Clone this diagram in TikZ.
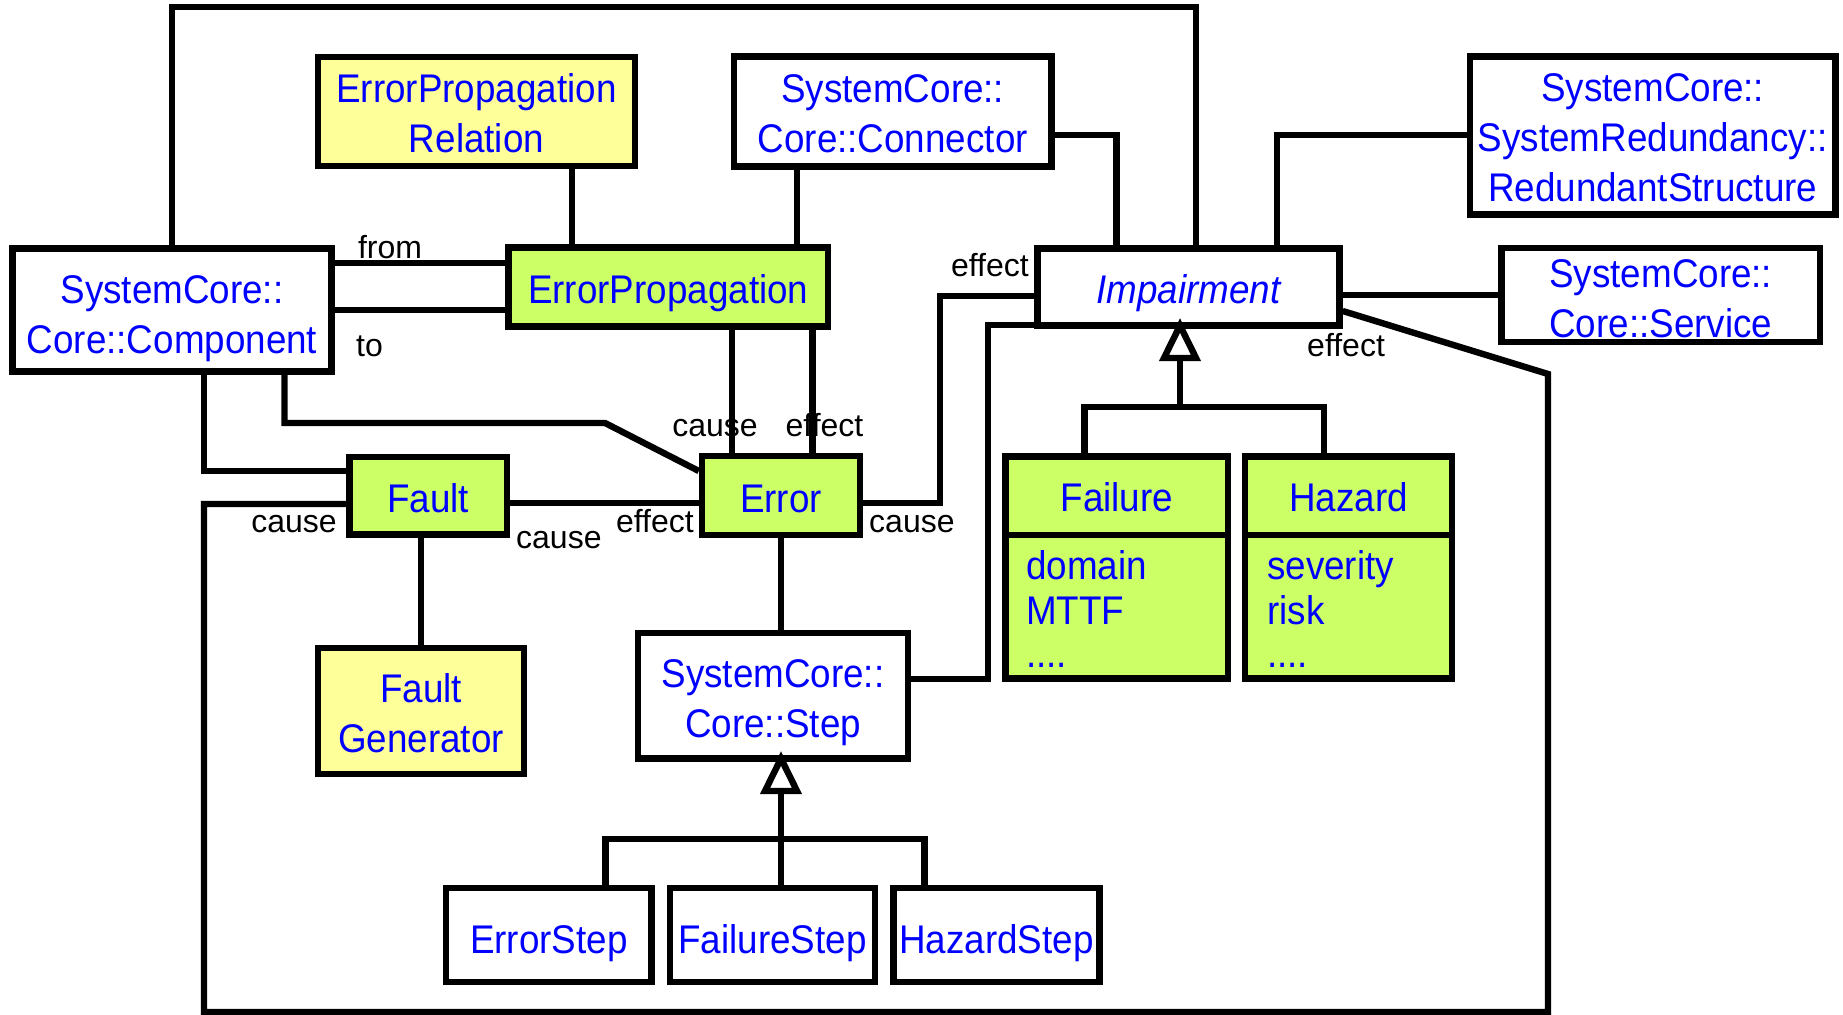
\documentclass[tikz,border=0pt]{standalone}
\usepackage{fontspec}
\setmainfont{Liberation Sans}
\newfontfamily\boxfont{Liberation Sans}[FakeStretch=0.92]
\definecolor{umlblue}{RGB}{0,0,255}
\definecolor{umlgreen}{RGB}{204,255,102}
\definecolor{umlyellow}{RGB}{255,255,153}
% invisible strut on the first line that lowers a class name by #1
\newcommand{\dn}[1]{\rule{0pt}{\dimexpr14.7pt+#1*2\relax}}

\begin{document}
\begin{tikzpicture}[x=0.5pt,y=-0.5pt,
  line width=3.2pt,
  cls/.style={draw=black, fill=white, inner sep=0pt, align=center,
              text=umlblue, font=\boxfont\fontsize{20}{25}\selectfont},
  gcls/.style={cls, fill=umlgreen},
  ycls/.style={cls, fill=umlyellow},
  title/.style={inner sep=0pt, text=umlblue, font=\boxfont\fontsize{20}{25}\selectfont},
  attr/.style={inner sep=0pt, anchor=base west, text=umlblue,
               font=\boxfont\fontsize{20}{25}\selectfont},
  role/.style={inner sep=0pt, font=\fontsize{16}{19}\selectfont},
  gen/.style={fill=white, line join=miter},
]
\useasboundingbox (0,0) rectangle (1843,1015);

% ---------- classes ----------
\node[ycls, minimum width=158.5pt, minimum height=54.5pt] (epr) at (476.5,111.5) {\dn{1pt}ErrorPropagation\\Relation};
\node[cls,  minimum width=159.5pt, minimum height=61.5pt] (comp) at (172,310) {\dn{4pt}SystemCore::\\Core::Component};
\node[gcls, minimum width=159.75pt, minimum height=39.5pt] (ep) at (668.25,287) {\dn{3pt}ErrorPropagation};
\node[cls,  minimum width=158.75pt, minimum height=55pt] (conn) at (892.75,111.5) {\dn{1pt}SystemCore::\\Core::Connector};
\node[cls,  minimum width=151pt, minimum height=38.5pt] (imp) at (1188.5,287) {\dn{3pt}\itshape Impairment};
\node[cls,  minimum width=182.75pt, minimum height=79pt] (red) at (1652.75,135.5) {\dn{1pt}SystemCore::\\SystemRedundancy::\\RedundantStructure};
\node[cls,  minimum width=159.25pt, minimum height=47pt] (serv) at (1660.75,295) {\dn{1.75pt}SystemCore::\\Core::Service};
\node[gcls, minimum width=78.75pt, minimum height=38.75pt] (fault) at (428.25,495.75) {\dn{1.25pt}Fault};
\node[gcls, minimum width=79pt, minimum height=39.5pt] (error) at (781,495.5) {\dn{1.25pt}Error};
\node[ycls, minimum width=103pt, minimum height=63pt] (fgen) at (421,711) {\dn{1pt}Fault\\Generator};
\node[cls,  minimum width=135pt, minimum height=62.75pt] (step) at (773,695.75) {\dn{3.25pt}SystemCore::\\Core::Step};
\node[cls,  minimum width=102.75pt, minimum height=47pt] (estep) at (548.75,935) {\dn{4pt}ErrorStep};
\node[cls,  minimum width=102.5pt, minimum height=47pt] (fstep) at (772.5,935) {\dn{4pt}FailureStep};
\node[cls,  minimum width=103pt, minimum height=47pt] (hstep) at (996.5,935) {\dn{4pt}HazardStep};

% classes with an attribute compartment
\node[gcls, minimum width=111.25pt, minimum height=111pt] (failure) at (1116.75,567.5) {};
\node[gcls, minimum width=103.5pt, minimum height=111pt] (hazard) at (1348.5,567.5) {};
\coordinate (divy) at (0,535);
\draw (failure.west |- divy) -- (failure.east |- divy);
\draw (hazard.west |- divy) -- (hazard.east |- divy);
\node[title] (failureT) at (1116.75,497) {Failure};
\node[title] (hazardT) at (1348.5,497) {Hazard};
\node[attr] (fa1) at (1023,580) {domain};
\node[attr] (fa2) at (1023,625) {MTTF};
\node[attr] (fa3) at (1023,668) {....};
\node[attr] (ha1) at (1264,580) {severity};
\node[attr] (ha2) at (1264,625) {risk};
\node[attr] (ha3) at (1264,668) {....};

% ---------- waypoints ----------
\coordinate (topR) at (1196,7);
\coordinate (x572) at (572,0);
\coordinate (x797) at (797,0);
\coordinate (cj) at (1116.5,135);
\coordinate (rj) at (1277,135);
\coordinate (sy) at (0,295);
\coordinate (fl) at (204,504);
\coordinate (bl) at (204,1012);
\coordinate (br) at (1548,1012);
\coordinate (rt) at (1548,374);
\coordinate (y311) at (0,311);
\coordinate (cf) at (204,471);
\coordinate (d1) at (284.5,423);
\coordinate (d2) at (605,423);
\coordinate (ey) at (0,471);
\coordinate (fe) at (0,503);
\coordinate (xc) at (732,0);
\coordinate (xe) at (812.5,0);
\coordinate (ei1) at (940,503);
\coordinate (ei2) at (940,296);
\coordinate (si1) at (988,679);
\coordinate (si2) at (988,325);
\coordinate (fy) at (0,263);
\coordinate (ty) at (0,310);

% ---------- associations ----------
\draw (comp.north) |- (topR) -- (topR |- imp.north);
\draw (epr.south -| x572) -- (ep.north -| x572);
\draw (conn.south -| x797) -- (ep.north -| x797);
\draw (conn.east |- cj) -- (cj) -- (cj |- imp.north);
\draw (red.west |- rj) -- (rj) -- (rj |- imp.north);
\draw (imp.east |- sy) -- (serv.west |- sy);
\draw (comp.east |- fy) -- (ep.west |- fy);
\draw (comp.east |- ty) -- (ep.west |- ty);
\draw (fault.west |- fl) -- (fl) -- (bl) -- (br) -- (rt) -- (imp.east |- y311);
\draw (comp.south -| cf) -- (cf) -- (fault.west |- cf);
\draw (comp.south -| d1) -- (d1) -- (d2) -- (error.west |- ey);
\draw (fault.east |- fe) -- (error.west |- fe);
\draw (ep.south -| xc) -- (error.north -| xc);
\draw (ep.south -| xe) -- (error.north -| xe);
\draw (error.east |- ei1) -- (ei1) -- (ei2) -- (imp.west |- ei2);
\draw (step.east |- si1) -- (si1) -- (si2) -- (imp.west |- si2);
\draw (fault.south -| fgen.north) -- (fgen.north);
\draw (error.south) -- (error.south |- step.north);

% ---------- generalizations ----------
\coordinate (sg) at (781,758.5);
\coordinate (sbar) at (781,839);
\draw (sg |- sbar) -- (sg |- 0,791);
\draw (estep.north -| 605.5,0) |- (sbar) -| (hstep.north -| 924.5,0);
\draw (sbar) -- (sbar |- fstep.north);
\draw[gen] (sg) -- ++(16,32.5) -- ++(-32,0) -- cycle;

\coordinate (ig) at (1180,325.5);
\coordinate (ibar) at (1180,407);
\draw (ibar) -- (ig |- 0,358);
\draw (failure.north -| 1084.5,0) |- (ibar) -| (hazard.north -| 1324,0);
\draw[gen] (ig) -- ++(16,32.5) -- ++(-32,0) -- cycle;

% ---------- role names ----------
\node[role, anchor=base] (rFrom) at (390,259) {from};
\node[role, anchor=base west] (rTo) at (353,357) {to};
\node[role, anchor=base east] (rC1) at (340,533) {cause};
\node[role, anchor=base west] (rC2) at (513,549) {cause};
\node[role, anchor=base east] (rE1) at (697,533) {effect};
\node[role, anchor=base west] (rC3) at (866,533) {cause};
\node[role, anchor=base] (rC4) at (715,437) {cause};
\node[role, anchor=base] (rE2) at (824.5,437) {effect};
\node[role, anchor=base east] (rE3) at (1032,277) {effect};
\node[role, anchor=base west] (rE4) at (1304,357) {effect};
\end{tikzpicture}
\end{document}
